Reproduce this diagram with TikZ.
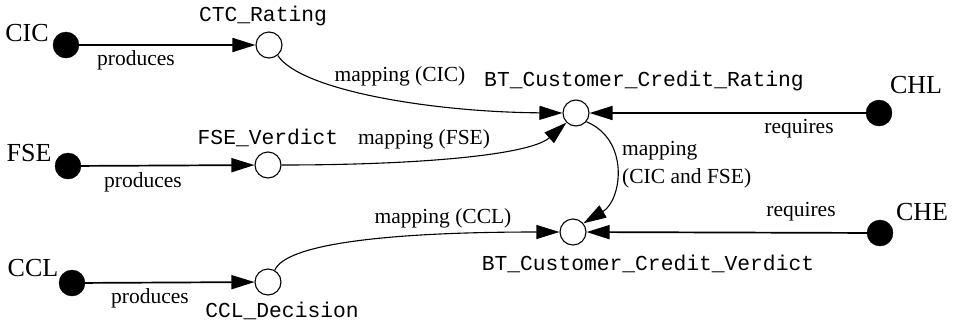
\documentclass[tikz,border=0pt]{standalone}
\usepackage{fontspec}
\setmainfont{Liberation Serif}
\setmonofont{Liberation Mono}
\usetikzlibrary{arrows.meta}
\begin{document}
\begin{tikzpicture}[x=1pt,y=-1pt,
  src/.style={circle,fill=black,draw=black,minimum size=26pt,inner sep=0pt},
  obj/.style={circle,fill=white,draw=black,line width=1.1pt,minimum size=26pt,inner sep=0pt},
  big/.style={font=\fontsize{26}{26}\selectfont,inner sep=0pt},
  lbl/.style={font=\fontsize{21.5}{28}\selectfont,inner sep=0pt},
  mono/.style={font=\fontsize{21.3}{21.3}\selectfont\ttfamily,inner sep=0pt},
  conn/.style={line width=1.1pt,-{Triangle[length=23pt,width=14pt]}},
  prod/.style={line width=1.7pt,-{Triangle[length=23pt,width=14pt]}},
]
\useasboundingbox (0,0) rectangle (956,322);
% sources
\node[src] (cic) at (66,45) {};
\node[big] (cicL) at (27,33) {CIC};
\node[src] (fse) at (68,166) {};
\node[big] (fseL) at (29,153) {FSE};
\node[src] (ccl) at (72,283) {};
\node[big] (cclL) at (33,268) {CCL};
\node[src] (chl) at (879,113) {};
\node[big] (chlL) at (916,85) {CHL};
\node[src] (che) at (880,233) {};
\node[big] (cheL) at (922,212) {CHE};
% objects
\node[obj] (ctc) at (269,45) {};
\node[mono] (ctcL) at (263,16) {CTC\_Rating};
\node[obj] (fsev) at (268,165) {};
\node[mono] (fsevL) at (268,138) {FSE\_Verdict};
\node[obj] (ccld) at (268,282) {};
\node[mono] (ccldL) at (282,311) {CCL\_Decision};
\node[obj] (btr) at (576,113) {};
\node[mono] (btrL) at (644,81) {BT\_Customer\_Credit\_Rating};
\node[obj] (btv) at (573,232) {};
\node[mono] (btvL) at (648,264) {BT\_Customer\_Credit\_Verdict};
% produces
\draw[prod] (cic) -- (ctc);
\node[lbl] (p1) at (136,60) {produces};
\draw[prod] (fse) -- (fsev);
\node[lbl] (p2) at (143,182) {produces};
\draw[prod] (ccl) -- (ccld);
\node[lbl] (p3) at (150,298) {produces};
% requires
\draw[prod] (chl) -- (btr);
\node[lbl] (r1) at (799,129) {requires};
\draw[prod] (che) -- (btv);
\node[lbl] (r2) at (801,212) {requires};
% mappings
\draw[conn] (ctc.-50) .. controls (300,90) and (430,112) .. (btr.west);
\node[lbl] (m1) at (400,76) {mapping (CIC)};
\draw[conn] (fsev.east) .. controls (420,165) and (530,155) .. (btr.-135);
\node[lbl] (m2) at (424,139) {mapping (FSE)};
\draw[conn] (ccld.60) .. controls (285,245) and (380,232) .. (btv.west);
\node[lbl] (m3) at (443,218) {mapping (CCL)};
\draw[conn] (btr.-40) .. controls (630,140) and (622,200) .. (btv.40);
\node[lbl,align=left,anchor=west] (m4) at (622,165) {mapping\\(CIC and FSE)};
\end{tikzpicture}
\end{document}
